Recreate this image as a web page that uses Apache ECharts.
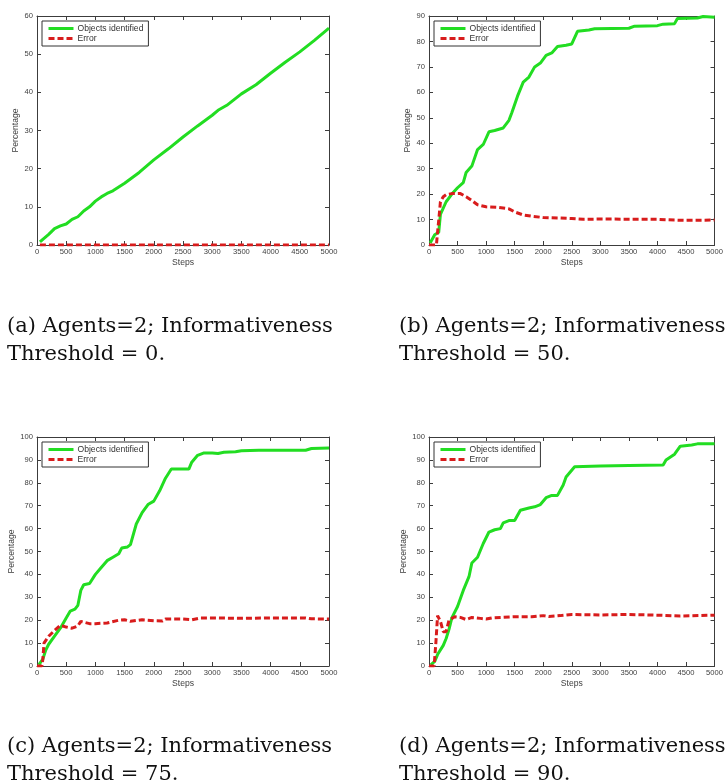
<!DOCTYPE html>
<html>
<head>
<meta charset="utf-8">
<script src="https://cdn.jsdelivr.net/npm/echarts@6/dist/echarts.min.js"></script>
<style>
html,body{margin:0;padding:0;background:#fff;}
#chart{width:726px;height:784px;}
</style>
</head>
<body>
<div id="chart"></div>
<script>
// ---- Data ----
const xTicks = [0, 5000, 500];
const yMaxes = [60, 90, 100, 100];
const seriesNames = ['Objects identified', 'Error'];
const captionsLine1 = ['(a) Agents=2; Informativeness', '(b) Agents=2; Informativeness', '(c) Agents=2; Informativeness', '(d) Agents=2; Informativeness'];
const captionsLine2 = ['Threshold = 0.', 'Threshold = 50.', 'Threshold = 75.', 'Threshold = 90.'];

// Panel (a)
const objStepsA = [50,100,200,300,400,500,600,700,800,900,1000,1100,1200,1300,1400,1500,1750,2000,2250,2500,2750,3000,3100,3250,3500,3750,4000,4250,4500,4750,5000];
const objValsA  = [0.8,1.5,2.8,4.3,5.0,5.5,6.7,7.4,8.9,10.0,11.5,12.6,13.5,14.2,15.2,16.2,19.0,22.3,25.2,28.3,31.2,34.0,35.3,36.6,39.6,42.0,45.0,47.9,50.6,53.6,56.8];
const errStepsA = [50,1000,2000,3000,4000,5000];
const errValsA  = [0,0,0,0,0,0];

// Panel (b)
const objStepsB = [20,100,170,200,300,400,500,600,650,750,850,950,1050,1150,1300,1400,1450,1550,1650,1750,1850,1950,2050,2150,2250,2400,2500,2600,2800,2900,3500,3600,4000,4100,4300,4350,4700,4800,5000];
const objValsB  = [0.8,4,5,12,17,20,22.5,24.5,28.5,31,37.5,39.5,44.5,45,46,49,52,58.5,64,66,70,71.5,74.5,75.5,78,78.5,79,84,84.5,85,85.2,86,86.2,86.8,87,89,89.2,89.8,89.5];
const errStepsB = [0,130,150,180,200,250,300,400,550,650,750,850,1000,1200,1400,1500,1650,1800,2000,2300,2500,2700,3000,4000,4300,4500,5000];
const errValsB  = [0,0,5,12,17,19,19.8,20.2,20.2,19,17.5,15.8,15,14.8,14.2,13,11.8,11.3,10.8,10.6,10.4,10.1,10.2,10.1,9.8,9.7,9.8];

// Panel (c)
const objStepsC = [30,100,150,200,300,400,500,570,650,700,750,800,900,1000,1100,1200,1300,1400,1450,1550,1600,1700,1800,1900,2000,2100,2200,2300,2600,2650,2750,2850,3000,3100,3200,3400,3500,3800,4000,4600,4700,5000];
const objValsC  = [0.5,3,7,9.5,13,16.5,21,24,24.8,26.5,33,35.5,36,40,43,46,47.5,49,51.5,52,53,62,67,70.5,72,76.5,82,86,86,89,92,93,93,92.8,93.3,93.6,94,94.2,94.2,94.2,95,95.2];
const errStepsC = [0,85,100,120,200,300,400,500,600,700,750,900,1000,1200,1400,1500,1600,1800,2000,2150,2200,2500,2650,2800,3000,3500,4000,4600,4700,5000];
const errValsC  = [0,0,3,10,13,15.5,17.8,17,16.5,17.5,19.5,18.5,18.5,18.8,20,20.2,19.5,20.2,19.8,19.7,20.5,20.5,20.2,21,21,20.8,21,21,20.6,20.5];

// Panel (d)
const objStepsD = [30,100,150,250,300,350,400,500,600,700,750,850,950,1050,1150,1250,1300,1400,1500,1600,1750,1850,1950,2050,2150,2250,2350,2400,2550,3000,3500,4100,4150,4300,4400,4600,4700,5000];
const objValsD  = [0.5,2,5,9,12,16,21,26,33,39,45,47.5,53.5,58.5,59.5,60,62.5,63.5,63.5,68,69,69.5,70.5,73.5,74.5,74.5,79,82.5,87,87.3,87.6,87.8,90,92.5,96,96.5,97,97];
const errStepsD = [0,90,120,150,200,250,300,350,450,550,650,750,900,1000,1100,1500,1800,2000,2100,2300,2500,3000,3500,4000,4400,5000];
const errValsD  = [0,0,10,22,19.5,15,15,20,21.5,21.2,20.3,21.2,20.8,20.5,21,21.5,21.5,22,21.6,22,22.5,22.3,22.5,22.2,21.8,22.2];

const panels = [
  [objStepsA, objValsA, errStepsA, errValsA],
  [objStepsB, objValsB, errStepsB, errValsB],
  [objStepsC, objValsC, errStepsC, errValsC],
  [objStepsD, objValsD, errStepsD, errValsD]
];

// ---- Layout / style ----
const grids = [
  {left: 37, top: 16, width: 292, height: 229},
  {left: 429, top: 16, width: 291, height: 229},
  {left: 37, top: 437, width: 292, height: 229},
  {left: 429, top: 437, width: 291, height: 229}
];
const axisColor = '#3c3c3c';
const labelColor = '#404040';
const green = '#22dd22';
const red = '#d81c1c';
const zip = (a, b) => a.map((v, i) => [v, b[i]]);
const plain = v => String(v);

const xAxes = [], yAxes = [], series = [], legends = [], graphics = [];
grids.forEach((g, i) => {
  const common = {
    type: 'value', gridIndex: i, splitLine: {show: false},
    axisLine: {show: true, onZero: false, lineStyle: {color: axisColor, width: 1}},
    axisTick: {show: true, inside: true, length: 4, lineStyle: {color: axisColor}}
  };
  xAxes.push(Object.assign({}, common, {
    min: xTicks[0], max: xTicks[1], interval: xTicks[2], position: 'bottom',
    axisLabel: {fontSize: 7.6, color: labelColor, margin: 3, fontFamily: 'Liberation Sans', showMinLabel: true, showMaxLabel: true, formatter: plain},
    name: 'Steps', nameLocation: 'middle', nameGap: 13,
    nameTextStyle: {fontSize: 8.6, color: labelColor, fontFamily: 'Liberation Sans'}
  }));
  yAxes.push(Object.assign({}, common, {
    min: 0, max: yMaxes[i], interval: 10, position: 'left',
    axisLabel: {fontSize: 7.6, color: labelColor, margin: 4, fontFamily: 'Liberation Sans', showMinLabel: true, showMaxLabel: true, formatter: plain},
    name: 'Percentage', nameLocation: 'middle', nameGap: 17,
    nameTextStyle: {fontSize: 8.6, color: labelColor, fontFamily: 'Liberation Sans'}
  }));
});
grids.forEach((g, i) => {
  const common = {
    type: 'value', gridIndex: i, splitLine: {show: false},
    axisLine: {show: true, onZero: false, lineStyle: {color: axisColor, width: 1}},
    axisTick: {show: true, inside: true, length: 4, lineStyle: {color: axisColor}},
    axisLabel: {show: false}
  };
  xAxes.push(Object.assign({}, common, {min: xTicks[0], max: xTicks[1], interval: xTicks[2], position: 'top'}));
  yAxes.push(Object.assign({}, common, {min: 0, max: yMaxes[i], interval: 10, position: 'right'}));
});

panels.forEach((p, i) => {
  series.push({
    name: seriesNames[0], type: 'line', xAxisIndex: i, yAxisIndex: i,
    data: zip(p[0], p[1]), symbol: 'none', smooth: false, z: 3,
    lineStyle: {color: green, width: 3}, itemStyle: {color: green}
  });
  series.push({
    name: seriesNames[1], type: 'line', xAxisIndex: i, yAxisIndex: i,
    data: zip(p[2], p[3]), symbol: 'none', smooth: false, z: 4,
    lineStyle: {color: red, width: 3, type: [6, 3]}, itemStyle: {color: red}
  });
  legends.push({
    left: grids[i].left + 5, top: grids[i].top + 5,
    orient: 'vertical', data: seriesNames,
    itemWidth: 25, itemHeight: 9, itemGap: 1,
    padding: [3, 5, 3, 5],
    borderColor: '#333', borderWidth: 1, backgroundColor: '#fff',
    selectedMode: false,
    itemStyle: {opacity: 0},
    lineStyle: {width: 3},
    textStyle: {fontSize: 8.6, color: '#333', fontFamily: 'Liberation Sans', padding: [0, 0, 0, -1]}
  });
  const cx = (i % 2 === 0) ? 7 : 399;
  const cy = (i < 2) ? 326.5 : 746.5;
  graphics.push({type: 'text', x: cx, y: cy, style: {text: captionsLine1[i], font: '21px "DejaVu Serif"', fill: '#111', verticalAlign: 'middle'}});
  graphics.push({type: 'text', x: cx, y: cy + 28, style: {text: captionsLine2[i], font: '21px "DejaVu Serif"', fill: '#111', verticalAlign: 'middle'}});
});

const chart = echarts.init(document.getElementById('chart'), null, {renderer: 'canvas'});
chart.setOption({
  backgroundColor: '#fff',
  animation: false,
  grid: grids,
  xAxis: xAxes,
  yAxis: yAxes,
  legend: legends,
  series: series,
  graphic: graphics
});
</script>
</body>
</html>
